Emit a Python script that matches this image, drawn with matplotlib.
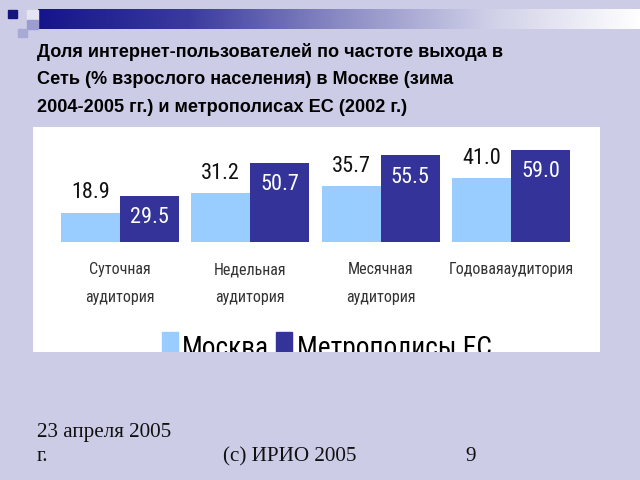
import numpy as np
import matplotlib
matplotlib.use("Agg")
import matplotlib.pyplot as plt
from matplotlib.patches import Rectangle
from matplotlib.colors import LinearSegmentedColormap

# data
categories = ["Суточная\nаудитория", "Недельная\nаудитория", "Месячная\nаудитория", "Годоваяаудитория"]
moscow = [18.9, 31.2, 35.7, 41.0]
eu = [29.5, 50.7, 55.5, 59.0]
series_names = ["Москва", "Метрополисы ЕС"]

title_lines = ["Доля интернет-пользователей по частоте выхода в",
               "Сеть (% взрослого населения) в Москве (зима",
               "2004-2005 гг.) и метрополисах ЕС (2002 г.)"]

BG = "#CCCCE6"
LIGHT = "#99CCFF"
NAVY = "#333399"
COND = ["Roboto Condensed", "DejaVu Sans"]
SERIF = ["Liberation Serif", "DejaVu Serif"]

W, H = 640, 480
fig = plt.figure(figsize=(6.4, 4.8), dpi=100, facecolor=BG)

def px_box(x0, y0, x1, y1):
    return [x0 / W, 1 - y1 / H, (x1 - x0) / W, (y1 - y0) / H]

# decorative header: gradient strip + small squares
gax = fig.add_axes(px_box(38, 9, 640, 29))
grad = LinearSegmentedColormap.from_list("hdr", ["#15158a", "#3a3a9e", "#8a8ac4", "#cfcfe8", "#ffffff"])
gax.imshow(np.linspace(0, 1, 256)[None, :], aspect="auto", cmap=grad)
gax.set_axis_off()
for (x0, y0, x1, y1, c) in [(8, 10, 17, 18, "#15157f"), (27, 10, 38, 20, "#e4e4f2"),
                            (27, 20, 38, 29, "#9c9cd0"), (18, 29, 27, 37, "#a9a9d6")]:
    fig.patches.append(Rectangle((x0 / W, 1 - y1 / H), (x1 - x0) / W, (y1 - y0) / H,
                                 transform=fig.transFigure, color=c, zorder=3))

for k, line in enumerate(title_lines):
    fig.text(37 / W, 1 - (57 + 27.5 * k) / H, line, ha="left", va="baseline", fontsize=13.1,
             fontweight="bold", family="Liberation Sans", color="black")

# white chart panel
ax = fig.add_axes(px_box(33, 127, 600, 352))
ax.set_facecolor("white")
for s in ax.spines.values():
    s.set_visible(False)
ax.set_xticks([])
ax.set_yticks([])

x = np.arange(len(categories))
w = 0.453
ax.bar(x - w / 2, moscow, w, color=LIGHT)
ax.bar(x + w / 2, eu, w, color=NAVY)
ax.set_xlim((33 - 120) / 130.3, (600 - 120) / 130.3)
ax.set_ylim(-(352 - 242) / 1.56, (242 - 127) / 1.56)

for i in range(len(categories)):
    ax.text(x[i] - w / 2, moscow[i] + 6, f"{moscow[i]:.1f}", ha="center", va="bottom",
            fontsize=16, family=COND, color="#111111")
    ax.text(x[i] + w / 2, eu[i] - 14, f"{eu[i]:.1f}", ha="center", va="center",
            fontsize=16, family=COND, color="white")
    for j, ln in enumerate(categories[i].split("\n")):
        ax.text(x[i], -17.9 - 17.4 * j, ln, ha="center", va="center",
                fontsize=11.5, family=COND, color="#333333")

# legend, clipped by the bottom of the panel
ly = -(356 - 242) / 1.56
def data_x(px):
    return (px - 120) / 130.3
ax.add_patch(Rectangle((data_x(162), ly), data_x(178) - data_x(162), (356 - 332) / 1.56,
                       color=LIGHT, clip_on=True))
ax.text(data_x(182), ly, series_names[0], ha="left", va="baseline", fontsize=19.7,
        family=COND, color="black", clip_on=True)
ax.add_patch(Rectangle((data_x(276), ly), data_x(292) - data_x(276), (356 - 332) / 1.56,
                       color=NAVY, clip_on=True))
ax.text(data_x(297), ly, series_names[1], ha="left", va="baseline", fontsize=19.7,
        family=COND, color="black", clip_on=True)

# footer
foot = dict(ha="left", va="baseline", fontsize=15.2, family=SERIF, color="#111111")
fig.text(37 / W, 1 - 437 / H, "23 апреля 2005", **foot)
fig.text(37 / W, 1 - 461 / H, "г.", **foot)
fig.text(223 / W, 1 - 461 / H, "(c) ИРИО 2005", **foot)
fig.text(465 / W, 1 - 461 / H, "9", **foot)

fig.savefig("out.png", dpi=100, facecolor=BG)
